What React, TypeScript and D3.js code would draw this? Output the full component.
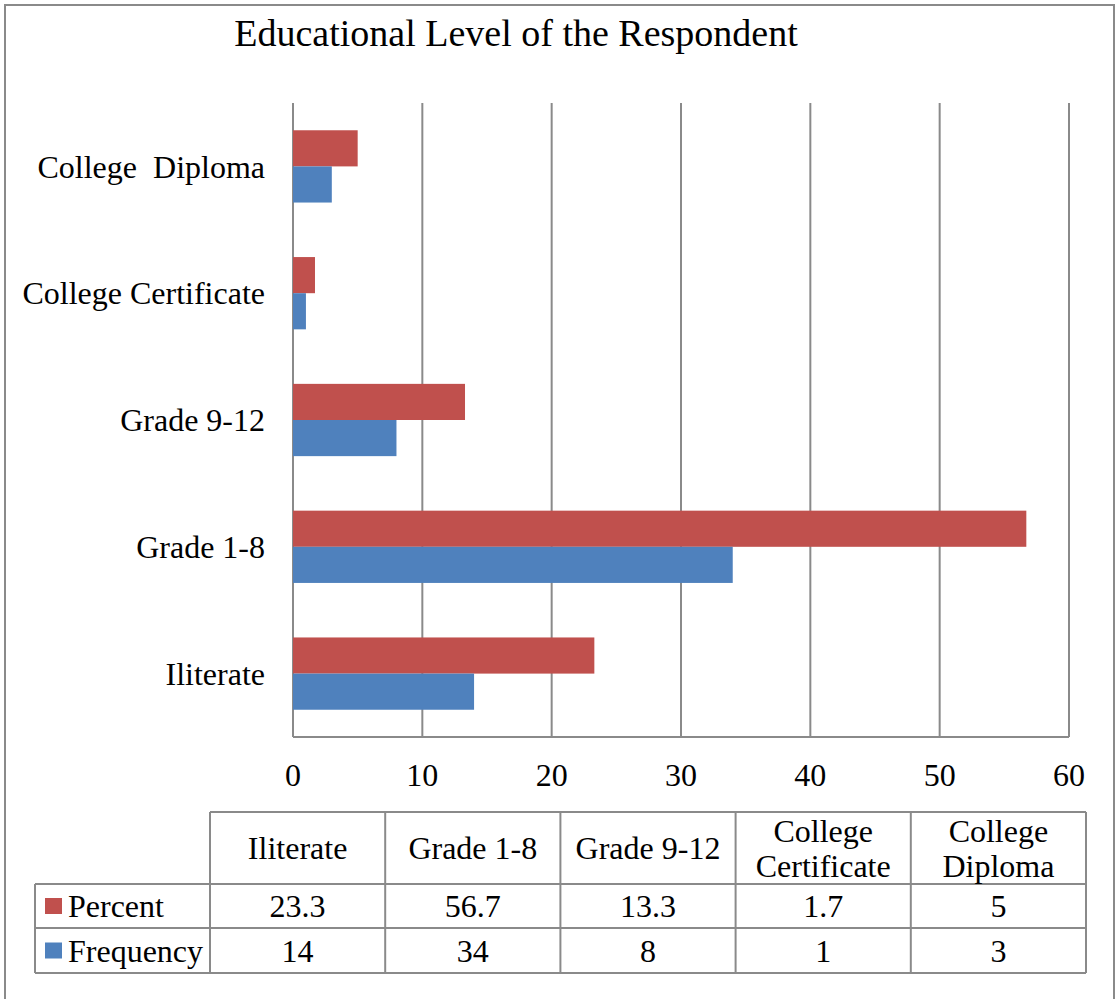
import React from "react";
import * as d3 from "d3";

const categories = ["Iliterate", "Grade 1-8", "Grade 9-12", "College Certificate", "College  Diploma"];
const tableHeaders = [["Iliterate"], ["Grade 1-8"], ["Grade 9-12"], ["College", "Certificate"], ["College", "Diploma"]];
const percentValues = [23.3, 56.7, 13.3, 1.7, 5];
const frequencyValues = [14, 34, 8, 1, 3];
const percentLabels = ["23.3", "56.7", "13.3", "1.7", "5"];
const frequencyLabels = ["14", "34", "8", "1", "3"];
const xTicks = [0, 10, 20, 30, 40, 50, 60];
const seriesNames = ["Percent", "Frequency"];
const seriesColors = ["#C0504D", "#4F81BD"];

const FONT = "'Liberation Serif', 'Times New Roman', serif";
const GRID = "#8a8a8a";
const FS = 32;

export default function App() {
  const W = 1116, H = 999;
  const left = 293, right = 1069, top = 103, bottom = 737;
  const x = d3.scaleLinear().domain([0, 60]).range([left, right]);
  const y = d3.scaleBand<string>().domain([...categories].reverse()).range([top, bottom]).paddingInner(0.43).paddingOuter(0.215);
  const sub = d3.scaleBand<string>().domain(seriesNames).range([0, y.bandwidth()]);

  const tLeft = 210, tRight = 1086, legLeft = 35;
  const col = d3.scaleBand<number>().domain(d3.range(categories.length)).range([tLeft, tRight]);
  const rowH = 812, rowP = 884, rowF = 928, rowEnd = 973;

  return (
    <svg width={W} height={H} style={{ position: "absolute", left: 0, top: 0, background: "#fff" }} fontFamily={FONT}>
      <rect x={0} y={0} width={W} height={H} fill="#fff" />
      <rect x={5} y={5} width={1109} height={1010} fill="none" stroke={GRID} strokeWidth={2} />
      <text x={516} y={46} textAnchor="middle" fontSize={38} fill="#000">Educational Level of the Respondent</text>

      {xTicks.map((t) => (
        <g key={t}>
          <line x1={x(t)} x2={x(t)} y1={top} y2={bottom} stroke={GRID} strokeWidth={2} />
          <text x={x(t)} y={786} textAnchor="middle" fontSize={FS} fill="#000">{t}</text>
        </g>
      ))}
      <line x1={left} x2={right} y1={bottom} y2={bottom} stroke={GRID} strokeWidth={2} />

      {categories.map((c, i) => (
        <g key={c}>
          <rect x={x(0)} y={(y(c) as number) + (sub("Percent") as number)} width={x(percentValues[i]) - x(0)} height={sub.bandwidth()} fill={seriesColors[0]} />
          <rect x={x(0)} y={(y(c) as number) + (sub("Frequency") as number)} width={x(frequencyValues[i]) - x(0)} height={sub.bandwidth()} fill={seriesColors[1]} />
          <text x={265} y={(y(c) as number) + y.bandwidth() / 2} dy="0.35em" textAnchor="end" fontSize={FS} fill="#000" style={{ whiteSpace: "pre" }}>{c}</text>
        </g>
      ))}

      {/* data table */}
      <g stroke={GRID} strokeWidth={2} fill="none">
        <line x1={tLeft} x2={tRight} y1={rowH} y2={rowH} />
        <line x1={legLeft} x2={tRight} y1={rowP} y2={rowP} />
        <line x1={legLeft} x2={tRight} y1={rowF} y2={rowF} />
        <line x1={legLeft} x2={tRight} y1={rowEnd} y2={rowEnd} />
        <line x1={legLeft} x2={legLeft} y1={rowP} y2={rowEnd} />
        {d3.range(categories.length + 1).map((i) => {
          const xx = i < categories.length ? (col(i) as number) : tRight;
          return <line key={i} x1={xx} x2={xx} y1={rowH} y2={rowEnd} />;
        })}
      </g>
      {tableHeaders.map((lines, i) => {
        const cx = (col(i) as number) + col.bandwidth() / 2;
        const cy = (rowH + rowP) / 2;
        return (
          <text key={i} textAnchor="middle" fontSize={FS} fill="#000">
            {lines.map((l, j) => (
              <tspan key={j} x={cx} y={cy + (j - (lines.length - 1) / 2) * 35} dy="0.35em">{l}</tspan>
            ))}
          </text>
        );
      })}
      {percentLabels.map((v, i) => (
        <text key={"p" + i} x={(col(i) as number) + col.bandwidth() / 2} y={(rowP + rowF) / 2} dy="0.35em" textAnchor="middle" fontSize={FS} fill="#000">{v}</text>
      ))}
      {frequencyLabels.map((v, i) => (
        <text key={"f" + i} x={(col(i) as number) + col.bandwidth() / 2} y={(rowF + rowEnd) / 2} dy="0.35em" textAnchor="middle" fontSize={FS} fill="#000">{v}</text>
      ))}
      {seriesNames.map((s, k) => {
        const cy = k === 0 ? (rowP + rowF) / 2 : (rowF + rowEnd) / 2;
        return (
          <g key={s}>
            <rect x={45} y={cy - 8} width={17} height={16} fill={seriesColors[k]} />
            <text x={68} y={cy} dy="0.35em" fontSize={FS} fill="#000">{s}</text>
          </g>
        );
      })}
    </svg>
  );
}
